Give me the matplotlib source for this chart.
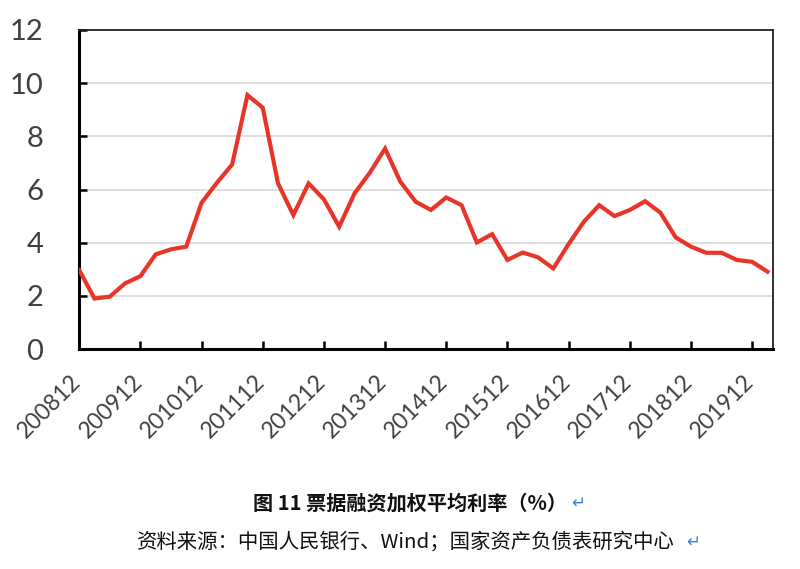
import numpy as np
import matplotlib.pyplot as plt
import matplotlib.transforms as mtransforms

# Data: quarterly weighted average bill financing rate (%), 200812 - 202003
rates = [2.97, 1.90, 1.97, 2.47, 2.74, 3.56, 3.75, 3.85, 5.50, 6.25,
         6.94, 9.55, 9.08, 6.23, 5.04, 6.23, 5.63, 4.60, 5.85, 6.63,
         7.54, 6.29, 5.54, 5.23, 5.70, 5.41, 4.01, 4.32, 3.35, 3.63,
         3.45, 3.03, 3.95, 4.79, 5.41, 5.00, 5.23, 5.56, 5.13, 4.20,
         3.85, 3.62, 3.62, 3.35, 3.28, 2.91]
tick_labels = ['200812', '200912', '201012', '201112', '201212', '201312',
               '201412', '201512', '201612', '201712', '201812', '201912']
y_ticks = [0, 2, 4, 6, 8, 10, 12]

x = np.arange(len(rates))

fig = plt.figure(figsize=(8, 5.69), dpi=100)
ax = fig.add_axes([0.099, 0.3866, 0.867, 0.5607])

ax.plot(x, rates, color='#E8352A', linewidth=3, solid_joinstyle='miter', zorder=3)

ax.set_xlim(0, 45.35)
ax.set_ylim(0, 12)

# gridlines
for v in y_ticks[1:-1]:
    ax.axhline(v, color='#D9D9D9', linewidth=1.2, zorder=1)

ax.set_yticks(y_ticks)
ax.set_yticklabels([str(v) for v in y_ticks], fontsize=21, color='#404040', family='Lato')
ax.tick_params(axis='y', direction='in', length=6, width=1.8, pad=26)

ax.set_xticks(np.arange(0, 45, 4))
ax.set_xticklabels(tick_labels, rotation=45, ha='right', fontsize=16.5,
                   color='#404040', family='Lato')
ax.tick_params(axis='x', direction='in', length=6, width=1.8, pad=16)
offset = mtransforms.ScaledTranslation(6 / 100, 0, fig.dpi_scale_trans)
for lbl in ax.get_xticklabels():
    lbl.set_transform(lbl.get_transform() + offset)

for side in ['left', 'bottom']:
    ax.spines[side].set_linewidth(2.2)
    ax.spines[side].set_color('black')
for side in ['top', 'right']:
    ax.spines[side].set_linewidth(1.3)
    ax.spines[side].set_color('#222222')

# captions
cjk = ['Noto Sans CJK SC', 'DejaVu Sans']
fig.text(0.5125, 1 - 503 / 569, '图 11 票据融资加权平均利率（%）', ha='center', va='center',
         fontsize=14.5, fontweight='bold', family=cjk, color='#111111')
fig.text(0.7225, 1 - 503 / 569, '↵', ha='center', va='center', fontsize=12,
         color='#3B7DDD', family='DejaVu Sans')
fig.text(0.5075, 1 - 542 / 569, '资料来源：中国人民银行、Wind；国家资产负债表研究中心',
         ha='center', va='center', fontsize=14.7, family=cjk, color='#111111')
fig.text(0.8665, 1 - 542 / 569, '↵', ha='center', va='center', fontsize=12,
         color='#3B7DDD', family='DejaVu Sans')

fig.savefig('out.png', dpi=100)
